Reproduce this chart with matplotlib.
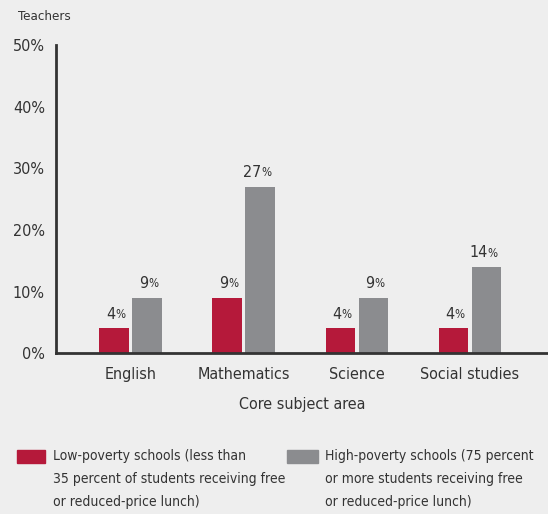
import matplotlib.pyplot as plt
import numpy as np

categories = ["English", "Mathematics", "Science", "Social studies"]
low_poverty = [4, 9, 4, 4]
high_poverty = [9, 27, 9, 14]
yticks = [0, 10, 20, 30, 40, 50]

bg = "#eeeeee"
red = "#b5193a"
gray = "#8b8c8f"
txt = "#333333"

plt.rcParams["font.family"] = ["DejaVu Sans"]
plt.rcParams["font.stretch"] = "condensed"

fig = plt.figure(figsize=(5.48, 5.14), dpi=100, facecolor=bg)
ax = fig.add_axes([0.102, 0.313, 0.898, 0.599], facecolor=bg)

x = np.arange(len(categories))
w = 0.265
off = 0.146
ax.bar(x - off, low_poverty, w, color=red)
ax.bar(x + off, high_poverty, w, color=gray)

# value labels with a smaller percent sign
for xs, vals in [(x - off, low_poverty), (x + off, high_poverty)]:
    for xi, v in zip(xs, vals):
        ax.annotate(str(v), (xi, v), xytext=(0.5, 5), textcoords="offset points",
                    ha="right", va="bottom", fontsize=11.5, color=txt)
        ax.annotate("%", (xi, v), xytext=(0.5, 5.3), textcoords="offset points",
                    ha="left", va="bottom", fontsize=8.5, color=txt)

ax.set_xlim(-0.664, 3.69)
ax.set_ylim(0, 50)
ax.set_yticks(yticks)
ax.set_yticklabels([f"{t}%" for t in yticks], fontsize=11.5, color=txt)
ax.set_xticks(x)
ax.set_xticklabels(categories, fontsize=11.5, color=txt)
ax.tick_params(length=0, pad=10)
ax.tick_params(axis="y", pad=8)
ax.set_xlabel("Core subject area", fontsize=11.5, color=txt, labelpad=11)

for s in ["top", "right"]:
    ax.spines[s].set_visible(False)
for s in ["left", "bottom"]:
    ax.spines[s].set_color(txt)
    ax.spines[s].set_linewidth(2)

fig.text(18 / 548, 1 - 16 / 514, "Teachers", fontsize=9.5, color=txt, va="center", ha="left")

# legend drawn manually at the bottom
fig.patches.append(plt.Rectangle((17 / 548, 1 - 463 / 514), 28 / 548, 13 / 514,
                                 transform=fig.transFigure, color=red))
fig.patches.append(plt.Rectangle((287 / 548, 1 - 463 / 514), 31 / 548, 13 / 514,
                                 transform=fig.transFigure, color=gray))
fig.text(53 / 548, 1 - 449 / 514,
         "Low-poverty schools (less than\n35 percent of students receiving free\nor reduced-price lunch)",
         fontsize=10, color=txt, va="top", ha="left", linespacing=1.8)
fig.text(325 / 548, 1 - 449 / 514,
         "High-poverty schools (75 percent\nor more students receiving free\nor reduced-price lunch)",
         fontsize=10, color=txt, va="top", ha="left", linespacing=1.8)

fig.savefig("out.png", dpi=100, facecolor=bg)
